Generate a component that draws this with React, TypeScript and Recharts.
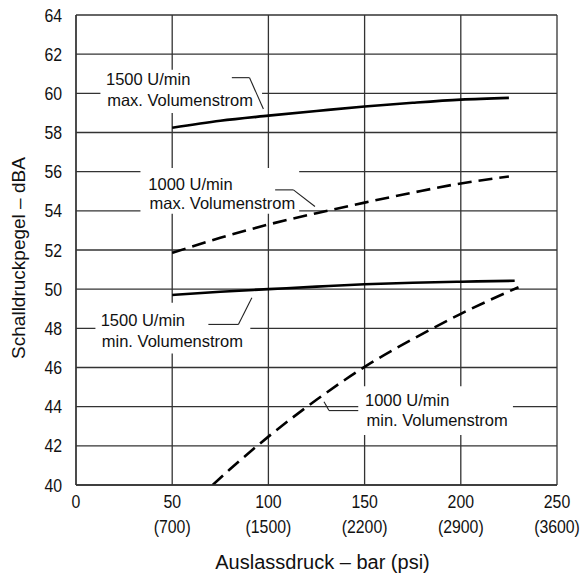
import React from 'react';
import { LineChart, Line, XAxis, YAxis, CartesianGrid, ReferenceArea, ReferenceLine, ReferenceDot } from 'recharts';

const FONT = "'Liberation Sans', Arial, sans-serif";

const xTicks = [0, 50, 100, 150, 200, 250];
const xTickPsi = ['', '(700)', '(1500)', '(2200)', '(2900)', '(3600)'];
const yTicks = [40, 42, 44, 46, 48, 50, 52, 54, 56, 58, 60, 62, 64];

const max1500 = [
  { x: 50, y: 58.24 }, { x: 75, y: 58.6 }, { x: 100, y: 58.86 }, { x: 125, y: 59.1 },
  { x: 150, y: 59.33 }, { x: 175, y: 59.52 }, { x: 200, y: 59.68 }, { x: 225, y: 59.77 },
];
const max1000 = [
  { x: 50, y: 51.85 }, { x: 75, y: 52.62 }, { x: 100, y: 53.3 }, { x: 125, y: 53.88 },
  { x: 150, y: 54.42 }, { x: 175, y: 54.93 }, { x: 200, y: 55.4 }, { x: 225, y: 55.75 },
];
const min1500 = [
  { x: 50, y: 49.7 }, { x: 75, y: 49.87 }, { x: 100, y: 50.0 }, { x: 125, y: 50.13 },
  { x: 150, y: 50.25 }, { x: 175, y: 50.33 }, { x: 200, y: 50.38 }, { x: 228, y: 50.43 },
];
const min1000 = [
  { x: 71, y: 40 }, { x: 80, y: 40.8 }, { x: 100, y: 42.47 }, { x: 125, y: 44.35 },
  { x: 150, y: 46.03 }, { x: 175, y: 47.45 }, { x: 200, y: 48.74 }, { x: 230, y: 50.1 },
];

// white label boxes (data coordinates)
const boxes = [
  { x1: 12.7, x2: 96.7, y1: 59.0, y2: 61.2 },
  { x1: 33.5, x2: 116, y1: 53.85, y2: 56.19 },
  { x1: 10.1, x2: 90.6, y1: 46.72, y2: 49.31 },
  { x1: 146.7, x2: 227.1, y1: 42.55, y2: 45.04 },
];

// leader lines (polylines in data coordinates)
const leaders = [
  [{ x: 81, y: 60.8 }, { x: 90.2, y: 60.8 }, { x: 97.4, y: 59.2 }],
  [{ x: 103.5, y: 55.07 }, { x: 113, y: 55.07 }, { x: 124.2, y: 54.22 }],
  [{ x: 68.8, y: 48.2 }, { x: 84.4, y: 48.2 }, { x: 91.4, y: 49.56 }],
  [{ x: 128.9, y: 44.25 }, { x: 131.5, y: 43.8 }, { x: 146.7, y: 43.8 }],
];

const labels = [
  { text: '1500 U/min', x: 15.6, y: 60.42 },
  { text: 'max. Volumenstrom', x: 16.2, y: 59.37 },
  { text: '1000 U/min', x: 37.6, y: 55.05 },
  { text: 'max. Volumenstrom', x: 38.2, y: 54.09 },
  { text: '1500 U/min', x: 12.8, y: 48.11 },
  { text: 'min. Volumenstrom', x: 13.4, y: 47.06 },
  { text: '1000 U/min', x: 150.2, y: 44.03 },
  { text: 'min. Volumenstrom', x: 151, y: 42.99 },
];

const SX = 0.88;

const XTick = (props: any) => {
  const { x, y, payload, index } = props;
  return (
    <g transform={`translate(${x},${y}) scale(${SX},1)`}>
      <text x={0} y={23} textAnchor="middle" fontSize={18} fontFamily={FONT} fill="#111">{payload.value}</text>
      <text x={0} y={48} textAnchor="middle" fontSize={18} fontFamily={FONT} fill="#111">{xTickPsi[index]}</text>
    </g>
  );
};

const YTick = (props: any) => {
  const { x, y, payload } = props;
  return (
    <g transform={`translate(${x},${y}) scale(${SX},1)`}>
      <text x={0} y={6.5} textAnchor="end" fontSize={18} fontFamily={FONT} fill="#111">{payload.value}</text>
    </g>
  );
};

const YLabel = (props: any) => {
  const vb = props.viewBox;
  const cx = vb.x + 25;
  const cy = vb.y + vb.height / 2 + 8;
  return (
    <text x={cx} y={cy} transform={`rotate(-90, ${cx}, ${cy})`} textAnchor="middle" fontSize={19} fontFamily={FONT} fill="#111">
      Schalldruckpegel – dBA
    </text>
  );
};

const XLabel = (props: any) => {
  const vb = props.viewBox;
  return (
    <text x={vb.x + vb.width / 2 + 6} y={vb.y + 84} textAnchor="middle" fontSize={20} fontFamily={FONT} fill="#111">
      Auslassdruck – bar (psi)
    </text>
  );
};

export default function App() {
  return (
    <div style={{ position: 'absolute', left: 0, top: 0, background: '#fff' }}>
      <LineChart width={582} height={574} margin={{ top: 15, right: 25, bottom: 0, left: 0 }}>
        <CartesianGrid stroke="#333" strokeWidth={1.3} />
        <XAxis
          type="number"
          dataKey="x"
          domain={[0, 250]}
          ticks={xTicks}
          height={89}
          tickSize={0}
          tickMargin={0}
          axisLine={{ stroke: '#333', strokeWidth: 1.3 }}
          tick={<XTick />}
          label={<XLabel />}
          allowDataOverflow
        />
        <YAxis
          type="number"
          dataKey="y"
          domain={[40, 64]}
          ticks={yTicks}
          width={76}
          tickSize={0}
          tickMargin={14}
          axisLine={{ stroke: '#333', strokeWidth: 1.3 }}
          tick={<YTick />}
          label={<YLabel />}
          allowDataOverflow
        />
        {boxes.map((b, i) => (
          <ReferenceArea key={'b' + i} x1={b.x1} x2={b.x2} y1={b.y1} y2={b.y2} fill="#fff" fillOpacity={1} stroke="none" />
        ))}
        {leaders.flatMap((pts, i) =>
          pts.slice(1).map((p, j) => (
            <ReferenceLine key={'l' + i + '-' + j} segment={[pts[j], p]} stroke="#222" strokeWidth={1.1} />
          ))
        )}
        {labels.map((l, i) => (
          <ReferenceDot
            key={'t' + i}
            x={l.x}
            y={l.y}
            r={0}
            shape={(p: any) => (
              <text x={p.cx} y={p.cy} fontSize={16.5} fontFamily={FONT} fill="#111">{l.text}</text>
            )}
          />
        ))}
        <Line data={max1500} dataKey="y" type="monotone" stroke="#000" strokeWidth={2.6} dot={false} isAnimationActive={false} />
        <Line data={max1000} dataKey="y" type="monotone" stroke="#000" strokeWidth={2.6} strokeDasharray="14 7" dot={false} isAnimationActive={false} />
        <Line data={min1500} dataKey="y" type="monotone" stroke="#000" strokeWidth={2.6} dot={false} isAnimationActive={false} />
        <Line data={min1000} dataKey="y" type="monotone" stroke="#000" strokeWidth={2.6} strokeDasharray="14 7" dot={false} isAnimationActive={false} />
      </LineChart>
    </div>
  );
}
